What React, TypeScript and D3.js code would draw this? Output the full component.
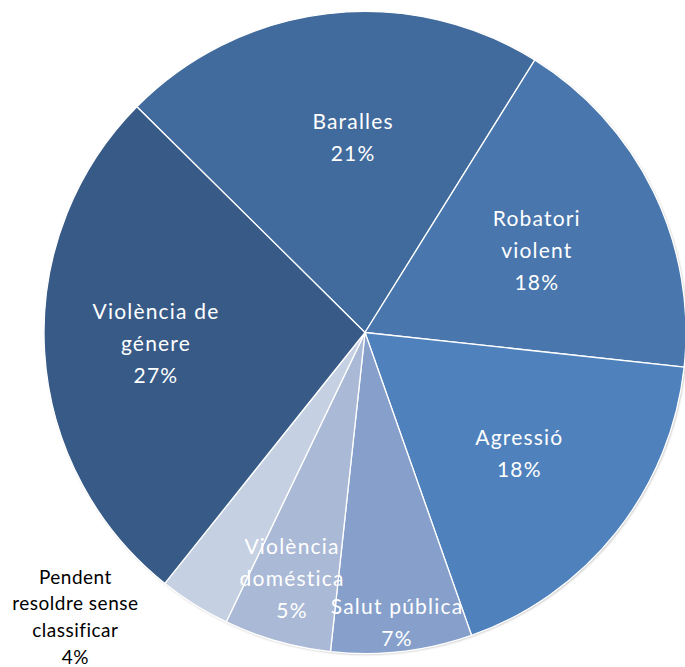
import { useMemo } from 'react'
import * as d3 from 'd3'

const categories = [
  'Baralles',
  'Robatori violent',
  'Agressió',
  'Salut pública',
  'Violència domèstica',
  'Pendent resoldre sense classificar',
  'Violència de génere',
]
const values = [21.45, 17.85, 17.9, 7.1, 5.4, 3.6, 26.7]
const percentLabels = ['21%', '18%', '18%', '7%', '5%', '4%', '27%']
const labelLines = [
  ['Baralles'],
  ['Robatori', 'violent'],
  ['Agressió'],
  ['Salut pública'],
  ['Violència', 'doméstica'],
  ['Pendent', 'resoldre sense', 'classificar'],
  ['Violència de', 'génere'],
]

const COLORS = ['#416b9c', '#4876ad', '#4f81bd', '#86a0cb', '#aab9d6', '#c5d0e2', '#375a87']

// label placement: fraction of radius and angle offset (deg) from slice middle
const LABEL_RADIUS = [0.609, 0.593, 0.611, 0.909, 0.8, 1.265, 0.652]
const LABEL_SHIFT = [3.2, 0.45, -0.3, 0.3, 0.6, 13.4, 0.35]

const WIDTH = 685
const HEIGHT = 667
const CX = 365
const CY = 332.5
const R = 321
const START = (-45.3 * Math.PI) / 180

export default function App() {
  const arcs = useMemo(() => {
    const pie = d3
      .pie<number>()
      .sort(null)
      .value((d) => d)
      .startAngle(START)
      .endAngle(START + 2 * Math.PI)
    return pie(values)
  }, [])

  const arc = d3.arc<d3.PieArcDatum<number>>().innerRadius(0).outerRadius(R)

  return (
    <div style={{ position: 'absolute', left: 0, top: 0 }}>
      <svg width={WIDTH} height={HEIGHT} style={{ display: 'block', background: '#fff' }}>
        <defs>
          <filter id="shadow" x="-10%" y="-10%" width="120%" height="120%">
            <feDropShadow dx="1" dy="1" stdDeviation="1.2" floodColor="#000" floodOpacity="0.25" />
          </filter>
        </defs>
        <g transform={`translate(${CX},${CY})`}>
          <circle r={R} fill="#fff" filter="url(#shadow)" />
          {arcs.map((a, i) => (
            <path key={categories[i]} d={arc(a) ?? ''} fill={COLORS[i]} stroke="#fff" strokeWidth={1.3} />
          ))}
          {arcs.map((a, i) => {
            const mid = (a.startAngle + a.endAngle) / 2 + (LABEL_SHIFT[i] * Math.PI) / 180
            const r = R * LABEL_RADIUS[i]
            const x = Math.sin(mid) * r
            const y = -Math.cos(mid) * r
            const outside = LABEL_RADIUS[i] > 1
            const lines = [...labelLines[i], percentLabels[i]]
            const lh = outside ? 26.7 : 31.7
            const fs = outside ? 19 : 21
            const y0 = y - ((lines.length - 1) * lh) / 2
            return (
              <text
                key={'lbl' + i}
                x={x}
                textAnchor="middle"
                fontFamily="Lato, 'Open Sans', sans-serif"
                fontSize={fs}
                letterSpacing={outside ? 0.5 : 1.2}
                fill={outside ? '#000' : '#fff'}
              >
                {lines.map((t, j) => (
                  <tspan key={j} x={x} y={y0 + j * lh} dy="0.35em">
                    {t}
                  </tspan>
                ))}
              </text>
            )
          })}
        </g>
      </svg>
    </div>
  )
}
